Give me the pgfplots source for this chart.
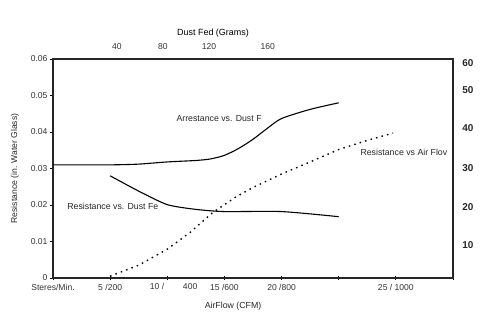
\documentclass[border=0pt]{standalone}
\usepackage{fontspec}
\setmainfont{Liberation Sans}
\usepackage{pgfplots}
\pgfplotsset{compat=1.18}
\begin{document}
\begin{tikzpicture}
\path[use as bounding box] (0,0) rectangle (500bp,335bp);
\begin{axis}[
  scale only axis,
  width=400bp, height=219bp,
  at={(53bp,57bp)}, anchor=south west,
  xmin=0, xmax=7, ymin=0, ymax=0.06,
  axis line style={line width=1.1pt, black!85},
  xtick={0,1,2,3,4,5,6,7},
  xticklabels={Steres/Min.,5 /200,,15 /600,20 /800,,25 / 1000,},
  ytick={0,0.01,0.02,0.03,0.04,0.05,0.06},
  yticklabels={0,0.01,0.02,0.03,0.04,0.05,0.06},
  scaled y ticks=false,
  xtick pos=bottom, ytick pos=left,
  xtick align=center, ytick align=outside,
  major tick length=3bp,
  tick style={line width=0.9pt, black},
  /pgf/number format/assume math mode=true,
  tick label style={font=\fontsize{8.6}{10}\selectfont, text=black!80},
  xticklabel style={yshift=-1bp},
  yticklabel style={xshift=1bp},
  ylabel={Resistance (in. Water Glass)},
  ylabel style={font=\fontsize{8.6}{10}\selectfont, text=black!85, at={(axis description cs:-0.095,0.5)}, anchor=center},
  clip=false,
]
% Arrestance vs Dust Fed
\addplot[black, line width=1.1bp, smooth, tension=0.4] coordinates {
  (0,0.031) (1,0.031) (1.5,0.0312) (2,0.0318) (2.5,0.0322) (2.75,0.0326)
  (3,0.0336) (3.25,0.0355) (3.5,0.0380) (3.75,0.0410) (4,0.0437)
  (4.5,0.0462) (5,0.0480)};
% Resistance vs Dust Fed
\addplot[black, line width=1.1bp, smooth, tension=0.4] coordinates {
  (1,0.0280) (1.5,0.0238) (2,0.0201) (2.5,0.0188) (3,0.0182)
  (4,0.0182) (5,0.0168)};
% Resistance vs Air Flow
\addplot[black, line width=1.4bp, dash pattern=on 1.5bp off 4.2bp] coordinates {
  (1,0.0005) (1.5,0.0035) (2,0.0079) (2.4,0.0125) (2.8,0.0180)
  (3.2,0.0222) (3.5,0.0248) (4,0.0285) (4.5,0.0318) (5,0.0352)
  (5.5,0.0377) (5.95,0.0397)};
% curve labels
\node[anchor=west, font=\fontsize{8.8}{10}\selectfont, text=black!85] at (axis cs:2.1,0.0437) {Arrestance vs. Dust F};
\node[anchor=west, font=\fontsize{8.8}{10}\selectfont, text=black!85] at (axis cs:0.19,0.0197) {Resistance vs. Dust Fe};
\node[anchor=west, font=\fontsize{8.8}{10}\selectfont, text=black!85] at (axis cs:5.32,0.0343) {Resistance vs Air Flov};
% bottom split label
\node[font=\fontsize{8.6}{10}\selectfont, text=black!80, anchor=north] at (axis cs:1.82,0) [yshift=-2bp] {10 /};
\node[font=\fontsize{8.6}{10}\selectfont, text=black!80, anchor=north] at (axis cs:2.4,0) [yshift=-2bp] {400};
% x title
\node[font=\fontsize{8.8}{10}\selectfont, text=black!85] at (axis cs:3.15,0) [yshift=-28bp] {AirFlow (CFM)};
% top axis
\node[font=\fontsize{8.6}{10}\selectfont, text=black!80] at (axis cs:1.12,0.06) [yshift=12bp] {40};
\node[font=\fontsize{8.6}{10}\selectfont, text=black!80] at (axis cs:1.925,0.06) [yshift=12bp] {80};
\node[font=\fontsize{8.6}{10}\selectfont, text=black!80] at (axis cs:2.73,0.06) [yshift=12bp] {120};
\node[font=\fontsize{8.6}{10}\selectfont, text=black!80] at (axis cs:3.76,0.06) [yshift=12bp] {160};
\node[font=\fontsize{9}{10}\selectfont, text=black] at (axis cs:2.8,0.06) [yshift=26bp] {Dust Fed (Grams)};
% right axis labels
\node[font=\bfseries\fontsize{10}{11}\selectfont, text=black!85] at (axis cs:7,0.0589) [xshift=15bp] {60};
\node[font=\bfseries\fontsize{10}{11}\selectfont, text=black!85] at (axis cs:7,0.0515) [xshift=15bp] {50};
\node[font=\bfseries\fontsize{10}{11}\selectfont, text=black!85] at (axis cs:7,0.0411) [xshift=15bp] {40};
\node[font=\bfseries\fontsize{10}{11}\selectfont, text=black!85] at (axis cs:7,0.0301) [xshift=15bp] {30};
\node[font=\bfseries\fontsize{10}{11}\selectfont, text=black!85] at (axis cs:7,0.0195) [xshift=15bp] {20};
\node[font=\bfseries\fontsize{10}{11}\selectfont, text=black!85] at (axis cs:7,0.0090) [xshift=15bp] {10};
\end{axis}
\end{tikzpicture}
\end{document}
